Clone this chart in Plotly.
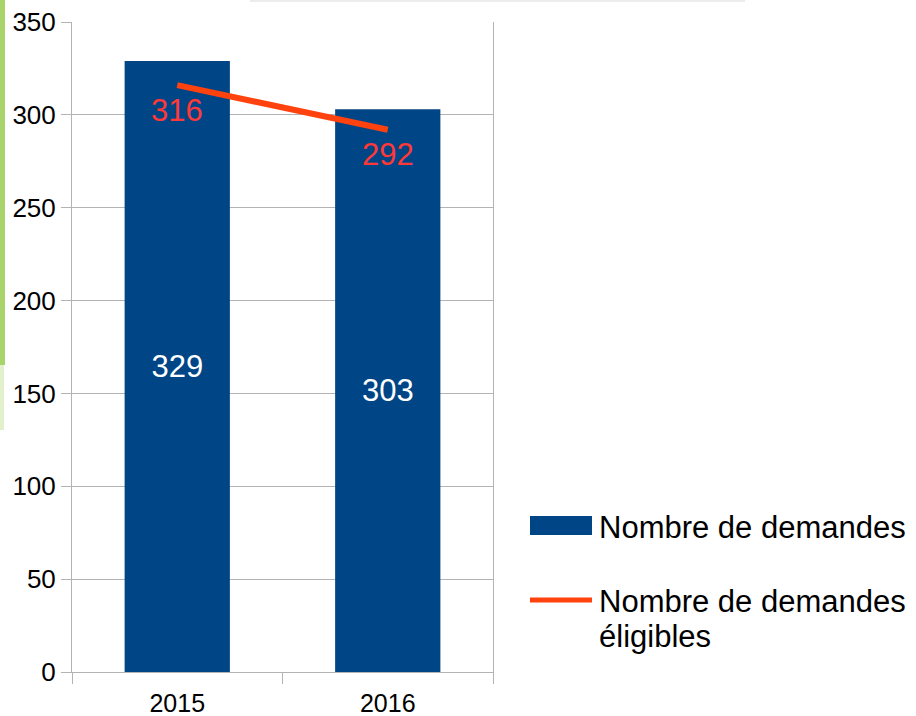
import plotly.graph_objects as go

categories = ["2015", "2016"]
demandes = [329, 303]
eligibles = [316, 292]
y_ticks = [0, 50, 100, 150, 200, 250, 300, 350]

BAR = "#004586"
LINE = "#ff420e"
LABEL_RED = "#ff3838"
FONT = "Liberation Sans"

W, H = 916, 716
L, R, T, B = 72, 493, 22, 672

def px(x):
    return (x - L) / (R - L)

def py(y):
    return (B - y) / (B - T)

fig = go.Figure()
fig.add_trace(go.Bar(
    x=categories, y=demandes, name="Nombre de demandes",
    marker=dict(color=BAR, line=dict(width=0)),
    text=[str(v) for v in demandes], textposition="inside",
    insidetextanchor="middle", textangle=0,
    textfont=dict(color="white", size=31, family=FONT),
    showlegend=False,
))
fig.add_trace(go.Scatter(
    x=categories, y=eligibles, name="Nombre de demandes éligibles",
    mode="lines", line=dict(color=LINE, width=6),
    showlegend=False, cliponaxis=False,
))

shapes = [
    # custom legend symbols
    dict(type="rect", xref="paper", yref="paper",
         x0=px(530), x1=px(592), y0=py(535), y1=py(516),
         fillcolor=BAR, line=dict(width=0)),
    dict(type="line", xref="paper", yref="paper",
         x0=px(530), x1=px(592), y0=py(600), y1=py(600),
         line=dict(color=LINE, width=5)),
    # decorative left strip
    dict(type="rect", xref="paper", yref="paper",
         x0=px(0), x1=px(5), y0=py(365), y1=py(0),
         fillcolor="#a9d46c", line=dict(width=0), layer="below"),
    dict(type="rect", xref="paper", yref="paper",
         x0=px(0), x1=px(4), y0=py(430), y1=py(365),
         fillcolor="#e2f0cc", line=dict(width=0), layer="below"),
    dict(type="line", xref="paper", yref="paper",
         x0=px(250), x1=px(745), y0=py(1), y1=py(1),
         line=dict(color="#ececec", width=2)),
]

annotations = []
# data labels of the line, placed below each point (category index on x)
for i, v in enumerate(eligibles):
    annotations.append(dict(
        x=i, y=v, xref="x", yref="y", text=str(v), showarrow=False,
        yshift=-25, xanchor="center", yanchor="middle",
        font=dict(size=31, color=LABEL_RED, family=FONT),
    ))

annotations += [
    dict(xref="paper", yref="paper", x=px(597), y=py(527),
         xanchor="left", yanchor="middle", showarrow=False,
         text="Nombre de demandes",
         font=dict(size=31, color="black", family=FONT)),
    dict(xref="paper", yref="paper", x=px(597), y=py(601),
         xanchor="left", yanchor="middle", showarrow=False,
         text="Nombre de demandes",
         font=dict(size=31, color="black", family=FONT)),
    dict(xref="paper", yref="paper", x=px(597), y=py(636),
         xanchor="left", yanchor="middle", showarrow=False,
         text="éligibles",
         font=dict(size=31, color="black", family=FONT)),
]

fig.update_layout(
    width=W, height=H,
    margin=dict(l=L, r=W - R, t=T, b=H - B, autoexpand=False),
    paper_bgcolor="white", plot_bgcolor="white",
    font=dict(family=FONT, color="black"),
    bargap=0.5,
    showlegend=False,
    shapes=shapes,
    annotations=annotations,
    xaxis=dict(
        type="category", categoryorder="array", categoryarray=categories,
        range=[-0.5, len(categories) - 0.5],
        tickson="boundaries", ticks="outside",
        ticklen=11, tickcolor="#b3b3b3", showgrid=False,
        showline=True, linecolor="#b3b3b3", linewidth=1,
        tickfont=dict(size=25, color="black", family=FONT),
        zeroline=False, automargin=False, ticklabelstandoff=9,
    ),
    yaxis=dict(
        range=[0, 350], tickvals=y_ticks, ticks="outside", ticklen=10,
        tickcolor="#b3b3b3", showgrid=True, gridcolor="#b3b3b3",
        gridwidth=1, showline=True, linecolor="#b3b3b3", linewidth=1,
        mirror=True, zeroline=False, automargin=False,
        tickfont=dict(size=26, color="black", family=FONT),
    ),
)

fig.write_html(
    "out.html",
    config={"displayModeBar": False},
    post_script="document.body.style.margin='0';document.body.style.overflow='hidden';",
)
